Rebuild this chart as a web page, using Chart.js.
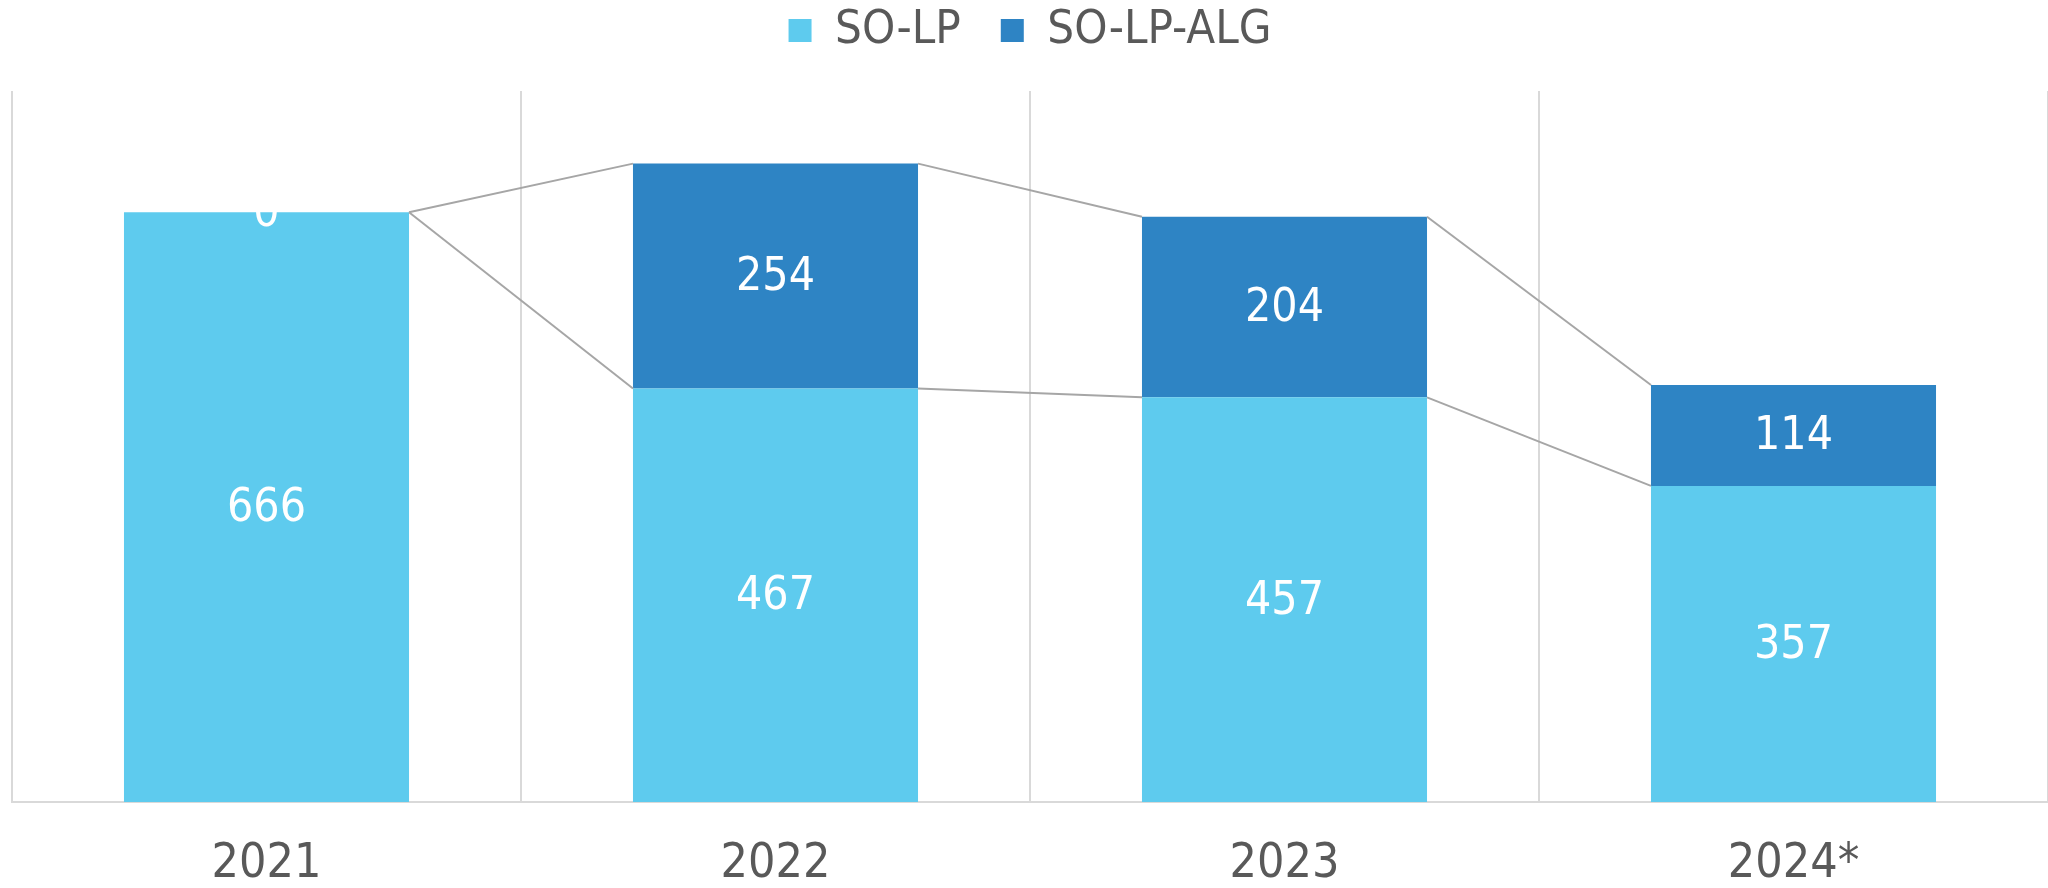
<!DOCTYPE html>
<html>
<head>
<meta charset="utf-8">
<script src="https://cdn.jsdelivr.net/npm/chart.js@4/dist/chart.umd.min.js"></script>
<style>
  html, body { margin: 0; padding: 0; background: #fff; }
  #wrap { width: 2048px; height: 888px; }
</style>
</head>
<body>
<div id="wrap"><canvas id="chart" width="2048" height="888"></canvas></div>
<script>
const years = ["2021", "2022", "2023", "2024*"];
const soLp = [666, 467, 457, 357];
const soLpAlg = [0, 254, 204, 114];

const FONT = "'DejaVu Sans Condensed', 'DejaVu Sans', sans-serif";
const PAD_TOP = -33;

// series lines + value labels, drawn from the bar elements
const stackExtras = {
  id: "stackExtras",
  afterInit(chart) {
    // give the legend a fixed height so the plot starts where the original does
    const lg = chart.legend;
    const fit = lg.fit;
    lg.fit = function () {
      fit.call(this);
      this.height = 91 - PAD_TOP;
    };
  },
  afterDatasetsDraw(chart) {
    const ctx = chart.ctx;
    ctx.save();
    ctx.strokeStyle = "#a6a6a6";
    ctx.lineWidth = 2;
    chart.data.datasets.forEach((ds, di) => {
      const bars = chart.getDatasetMeta(di).data;
      for (let i = 0; i < bars.length - 1; i++) {
        const a = bars[i], b = bars[i + 1];
        ctx.beginPath();
        ctx.moveTo(a.x + a.width / 2, a.y);
        ctx.lineTo(b.x - b.width / 2, b.y);
        ctx.stroke();
      }
    });
    ctx.fillStyle = "#ffffff";
    ctx.font = "46px " + FONT;
    ctx.textAlign = "center";
    ctx.textBaseline = "middle";
    chart.data.datasets.forEach((ds, di) => {
      const bars = chart.getDatasetMeta(di).data;
      bars.forEach((bar, i) => {
        ctx.fillText(String(ds.data[i]), bar.x, (bar.y + bar.base) / 2 + 2);
      });
    });
    ctx.restore();
  }
};

new Chart(document.getElementById("chart").getContext("2d"), {
  type: "bar",
  data: {
    labels: years,
    datasets: [
      { label: "SO-LP", data: soLp, backgroundColor: "#5ecbee", borderWidth: 0 },
      { label: "SO-LP-ALG", data: soLpAlg, backgroundColor: "#2e84c4", borderWidth: 0 },
    ],
  },
  options: {
    responsive: false,
    devicePixelRatio: 1,
    animation: false,
    barPercentage: 0.56,
    categoryPercentage: 1,
    layout: { padding: { left: 12, right: 0, top: PAD_TOP, bottom: 0 } },
    plugins: {
      legend: {
        position: "top",
        labels: {
          color: "#595959",
          font: { family: FONT, size: 47 },
          boxWidth: 23,
          boxHeight: 23,
          padding: 40,
        },
      },
      tooltip: { enabled: false },
    },
    scales: {
      x: {
        stacked: true,
        grid: { color: "#d9d9d9", lineWidth: 2, drawTicks: false, offset: true },
        border: { color: "#d9d9d9", width: 2 },
        ticks: { color: "#595959", font: { family: FONT, size: 48 }, padding: 34 },
        afterFit(scale) { scale.height = 86; },
      },
      y: {
        stacked: true,
        display: false,
        min: 0,
        max: 803,
      },
    },
  },
  plugins: [stackExtras],
});
</script>
</body>
</html>
